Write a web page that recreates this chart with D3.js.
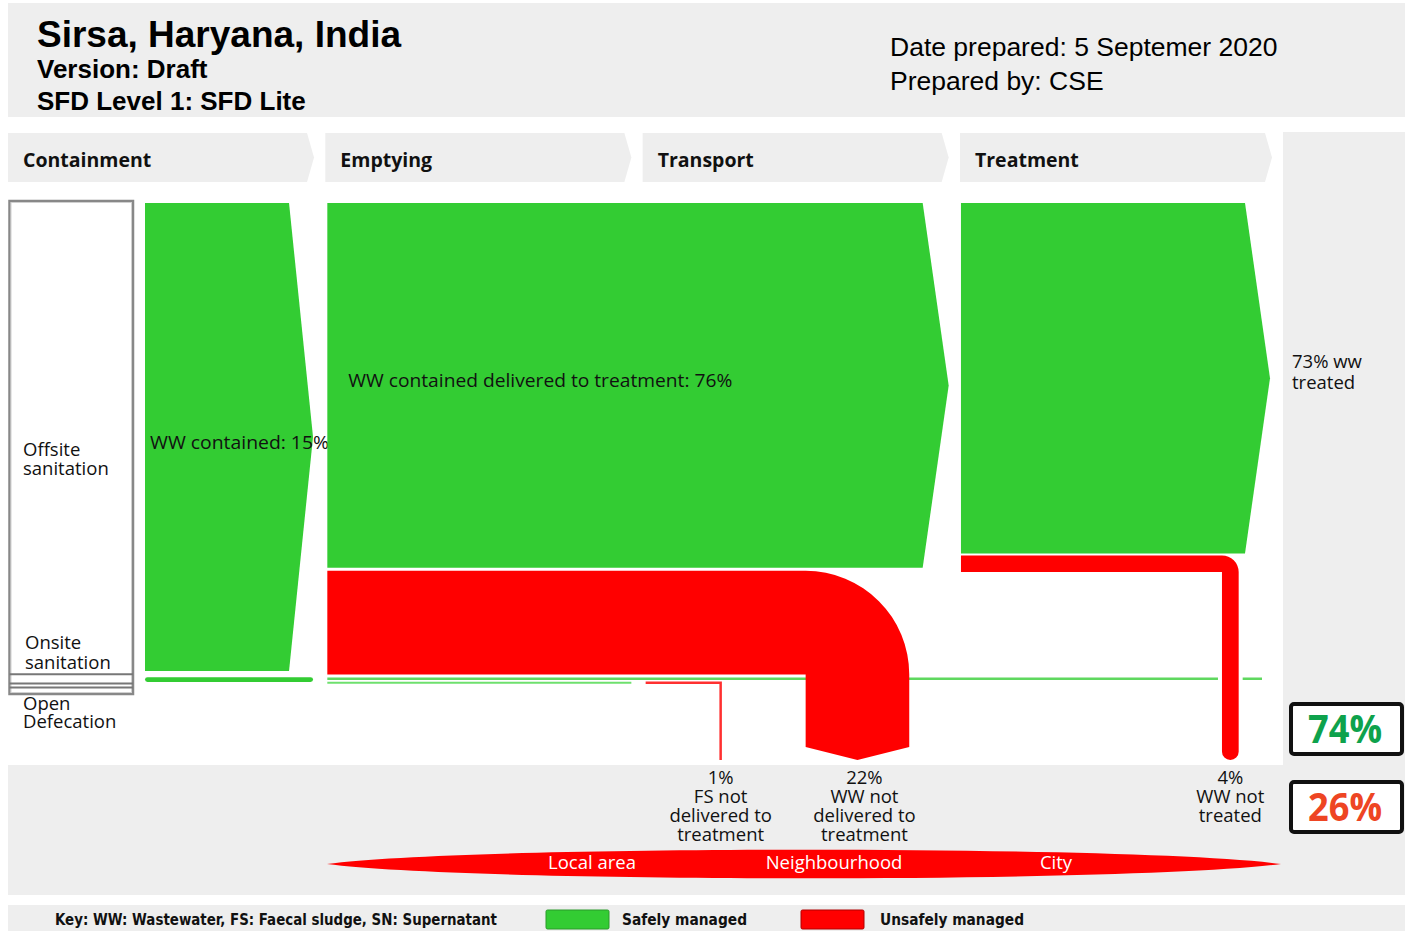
<!DOCTYPE html>
<html><head><meta charset="utf-8">
<script src="https://cdn.jsdelivr.net/npm/d3@7"></script>
<style>body{margin:0;background:#fff}svg{display:block}</style>
</head><body><svg id="c" width="1409" height="931"></svg>
<script>
// ---------- data ----------
const titleLines = ["Sirsa, Haryana, India", "Version: Draft", "SFD Level 1: SFD Lite"];
const metaLines = ["Date prepared: 5 Septemer 2020", "Prepared by: CSE"];
const stages = ["Containment", "Emptying", "Transport", "Treatment"];
const containmentLabels = [["Offsite", "sanitation"], ["Onsite", "sanitation"], ["Open", "Defecation"]];
const containmentShares = [96, 2.5, 1.5];
const safeFlowLabels = ["WW contained: 15%", "WW contained delivered to treatment: 76%", "73% ww|treated"];
const safeFlowValues = [97.5, 76, 73];
const onsiteFlowValues = [1, 1];
const unsafeFlowLabels = [["1%", "FS not", "delivered to", "treatment"], ["22%", "WW not", "delivered to", "treatment"], ["4%", "WW not", "treated"]];
const unsafeFlowValues = [1, 22, 4];
const summaryLabels = ["74%", "26%"];
const summaryValues = [74, 26];
const extentLabels = ["Local area", "Neighbourhood", "City"];
const keyText = "Key: WW: Wastewater, FS: Faecal sludge, SN: Supernatant";
const keyLabels = ["Safely managed", "Unsafely managed"];

// ---------- style ----------
const GREEN = "#33cc33", RED = "#ff0000", GREY = "#eeeeee";
const BODY = "'Open Sans', 'Noto Sans', sans-serif";
const FS = 18.5;
const svg = d3.select("#c");

// ---------- scales ----------
const x = d3.scaleBand(stages, [8, 1266]).paddingInner(0.0356);
const bw = x.bandwidth();
const y = d3.scaleLinear([0, 100], [203, 683]);          // flow thickness
const boxY = d3.scaleLinear([0, 100], [201, 694]);       // containment box
const ext = d3.scaleOrdinal(extentLabels, [592, 834, 1056]);

// ---------- backgrounds ----------
svg.append("rect").attr("x", 8).attr("y", 3).attr("width", 1397).attr("height", 114).attr("fill", GREY);
svg.append("rect").attr("x", 1283).attr("y", 132).attr("width", 122).attr("height", 633).attr("fill", GREY);
svg.append("rect").attr("x", 8).attr("y", 765).attr("width", 1397).attr("height", 130).attr("fill", GREY);
svg.append("rect").attr("x", 8).attr("y", 905).attr("width", 1397).attr("height", 26).attr("fill", GREY);

// ---------- title ----------
const tsz = [37, 26, 26], tby = [47, 78, 110];
titleLines.forEach((t, i) => svg.append("text").attr("x", 37).attr("y", tby[i])
  .attr("font-family", "'Liberation Sans', Arial, sans-serif").attr("font-weight", "bold")
  .attr("font-size", tsz[i]).attr("fill", "#000").text(t));
metaLines.forEach((t, i) => svg.append("text").attr("x", 890).attr("y", 56 + i * 34)
  .attr("font-family", "'Liberation Sans', Arial, sans-serif")
  .attr("font-size", 26.5).attr("fill", "#000").text(t));

// ---------- stage headers ----------
stages.forEach((s, i) => {
  const x0 = x(s), x1 = x(s) + bw + (i === 3 ? 6 : 0);
  svg.append("path").attr("d", `M${x0},133 H${x1 - 7} L${x1},157.5 L${x1 - 7},182 H${x0} Z`).attr("fill", GREY);
  svg.append("text").attr("x", x0 + 15).attr("y", 167).attr("font-family", BODY)
    .attr("font-weight", 700).attr("font-size", 19.5).attr("fill", "#111").text(s);
});

// ---------- containment box ----------
const bx0 = 9.5, bx1 = 133;
svg.append("rect").attr("x", bx0).attr("y", boxY(0)).attr("width", bx1 - bx0).attr("height", boxY(100) - boxY(0))
  .attr("fill", "#fff").attr("stroke", "#888").attr("stroke-width", 2.5);
svg.append("rect").attr("x", bx0 + 1.5).attr("y", boxY(0) + 1.5).attr("width", bx1 - bx0 - 3).attr("height", boxY(100) - boxY(0) - 3)
  .attr("fill", "none").attr("stroke", "#d0d0d0").attr("stroke-width", 1);
let cum = 0;
const bounds = containmentShares.map(v => { const a = cum; cum += v; return [a, cum]; });
[boxY(bounds[0][1]), boxY(bounds[1][1]) - 3, boxY(bounds[1][1]) + 1].forEach(yy =>
  svg.append("line").attr("x1", bx0).attr("x2", bx1).attr("y1", yy).attr("y2", yy).attr("stroke", "#777").attr("stroke-width", 2));
const labY = [[456, 475], [649, 669], [710, 728]];
const labX = [23, 25, 23];
containmentLabels.forEach((ls, i) => ls.forEach((l, j) =>
  svg.append("text").attr("x", labX[i]).attr("y", labY[i][j]).attr("font-family", BODY)
    .attr("font-size", FS).attr("fill", "#111").text(l)));

// ---------- safe flows ----------
{
  const x0 = x("Containment") + 137, x1 = x("Containment") + bw - 1, t = y(0), b = y(safeFlowValues[0]);
  svg.append("path").attr("d", `M${x0},${t} H${x1 - 24} L${x1},${(t + b) / 2} L${x1 - 24},${b} H${x0} Z`).attr("fill", GREEN);
  svg.append("text").attr("x", x0 + 5).attr("y", (t + b) / 2 + 12).attr("font-family", BODY).attr("font-size", FS)
    .attr("textLength", 179).attr("lengthAdjust", "spacingAndGlyphs")
    .attr("fill", "#111").text(safeFlowLabels[0]);
}
{
  const x0 = x("Emptying") + 2, x1 = x("Transport") + bw, t = y(0), b = y(safeFlowValues[1]);
  svg.append("path").attr("d", `M${x0},${t} H${x1 - 26} L${x1},${(t + b) / 2} L${x1 - 26},${b} H${x0} Z`).attr("fill", GREEN);
  svg.append("text").attr("x", x0 + 21).attr("y", (t + b) / 2 + 2).attr("font-family", BODY).attr("font-size", FS)
    .attr("textLength", 384).attr("lengthAdjust", "spacingAndGlyphs")
    .attr("fill", "#111").text(safeFlowLabels[1]);
}
{
  const x0 = x("Treatment") + 1, x1 = x("Treatment") + bw + 4, t = y(0), b = y(safeFlowValues[2]);
  svg.append("path").attr("d", `M${x0},${t} H${x1 - 25} L${x1},${(t + b) / 2} L${x1 - 25},${b} H${x0} Z`).attr("fill", GREEN);
  safeFlowLabels[2].split("|").forEach((l, j) =>
    svg.append("text").attr("x", 1292).attr("y", (t + b) / 2 - 10 + j * 21).attr("font-family", BODY).attr("font-size", FS)
      .attr("fill", "#111").text(l));
}

// ---------- onsite thin flows ----------
const onY = y(99.3);
svg.append("rect").attr("x", x("Containment") + 137).attr("y", onY - 2.5).attr("width", bw - 138).attr("height", y(onsiteFlowValues[0]) - y(0))
  .attr("rx", 2.5).attr("fill", GREEN);
svg.append("line").attr("x1", x("Emptying") + 2).attr("x2", x("Treatment") + bw - 4).attr("y1", onY - 1).attr("y2", onY - 1)
  .attr("stroke", "#5fd85f").attr("stroke-width", 2.5);
svg.append("line").attr("x1", x("Emptying") + 2).attr("x2", x("Emptying") + bw).attr("y1", onY + 3).attr("y2", onY + 3)
  .attr("stroke", "#6ee06e").attr("stroke-width", 2);

// ---------- unsafe flows ----------
const pipe = {};
{
  const x0 = x("Emptying") + 2, xi = x("Transport") + 163;
  const top = y(safeFlowValues[1]) + 3, w = y(unsafeFlowValues[1]) - y(0) - 2, bot = top + w, yEnd = 747;
  pipe.x = xi + w / 2;
  svg.append("path").attr("d",
    `M${x0},${top} H${xi} A${w},${w} 0 0 1 ${xi + w},${bot} V${yEnd} L${xi + w / 2},${yEnd + 13} L${xi},${yEnd} V${bot} H${x0} Z`)
    .attr("fill", RED);
}
const fsX = x("Transport") + 78;
svg.append("path").attr("d", `M${x("Transport") + 3},${onY + 3} H${fsX} V760`).attr("fill", "none")
  .attr("stroke", "#ff3030").attr("stroke-width", 2.5 * unsafeFlowValues[0]);
let ntX;
{
  const x0 = x("Treatment") + 1, xl = x("Treatment") + 262, w = y(unsafeFlowValues[2]) - y(0) - 2.5;
  const t = y(safeFlowValues[2]) + 2, yb = 760, r = w;
  ntX = xl + w / 2;
  svg.append("rect").attr("x", xl - 4).attr("y", onY - 3).attr("width", w + 8).attr("height", 5).attr("fill", "#fff");
  svg.append("path").attr("d",
    `M${x0},${t} H${xl + w - r} A${r},${r} 0 0 1 ${xl + w},${t + r} V${yb - w / 2} A${w / 2},${w / 2} 0 0 1 ${xl},${yb - w / 2} V${t + w} H${x0} Z`)
    .attr("fill", RED);
}

// ---------- outcome labels ----------
const outX = [fsX, pipe.x + 7, ntX];
unsafeFlowLabels.forEach((ls, i) => ls.forEach((l, j) =>
  svg.append("text").attr("x", outX[i]).attr("y", 784 + j * 19).attr("text-anchor", "middle").attr("font-family", BODY)
    .attr("font-size", FS).attr("fill", "#111").text(l)));

// ---------- extent lens ----------
svg.append("path").attr("d", "M327,864 C470,845 1138,845 1281,864 C1138,883 470,883 327,864 Z").attr("fill", RED);
extentLabels.forEach(l => svg.append("text").attr("x", ext(l)).attr("y", 869).attr("text-anchor", "middle")
  .attr("font-family", BODY).attr("font-size", FS).attr("fill", "#fff").text(l));

// ---------- summary boxes ----------
const sumY = [729, 807], sumCol = ["#0ea24c", "#ee4523"];
summaryLabels.forEach((l, i) => {
  svg.append("rect").attr("x", 1291).attr("y", sumY[i] - 25).attr("width", 111).attr("height", 50).attr("rx", 3)
    .attr("fill", "#fff").attr("stroke", "#111").attr("stroke-width", 4);
  svg.append("text").attr("x", 1345).attr("y", sumY[i] + 14).attr("text-anchor", "middle").attr("font-family", BODY)
    .attr("font-weight", 700).attr("font-size", 40).attr("textLength", 74).attr("lengthAdjust", "spacingAndGlyphs")
    .attr("fill", sumCol[i]).text(l);
});

// ---------- key ----------
const KEYF = "'DejaVu Sans Condensed', 'DejaVu Sans', sans-serif";
svg.append("text").attr("x", 55).attr("y", 925).attr("font-family", KEYF).attr("font-weight", "bold").attr("font-size", 16.5)
  .attr("textLength", 442).attr("lengthAdjust", "spacingAndGlyphs").attr("fill", "#111").text(keyText);
const swX = [546, 801], kx = [622, 880], kw = [125, 144], kc = [GREEN, RED], ks = ["#2b9a2b", "#b00000"];
keyLabels.forEach((l, i) => {
  svg.append("rect").attr("x", swX[i]).attr("y", 910).attr("width", 63).attr("height", 19).attr("rx", 1.5)
    .attr("fill", kc[i]).attr("stroke", ks[i]).attr("stroke-width", 1);
  svg.append("text").attr("x", kx[i]).attr("y", 925).attr("font-family", KEYF).attr("font-weight", "bold").attr("font-size", 16.5)
    .attr("textLength", kw[i]).attr("lengthAdjust", "spacingAndGlyphs").attr("fill", "#111").text(l);
});
</script></body></html>
